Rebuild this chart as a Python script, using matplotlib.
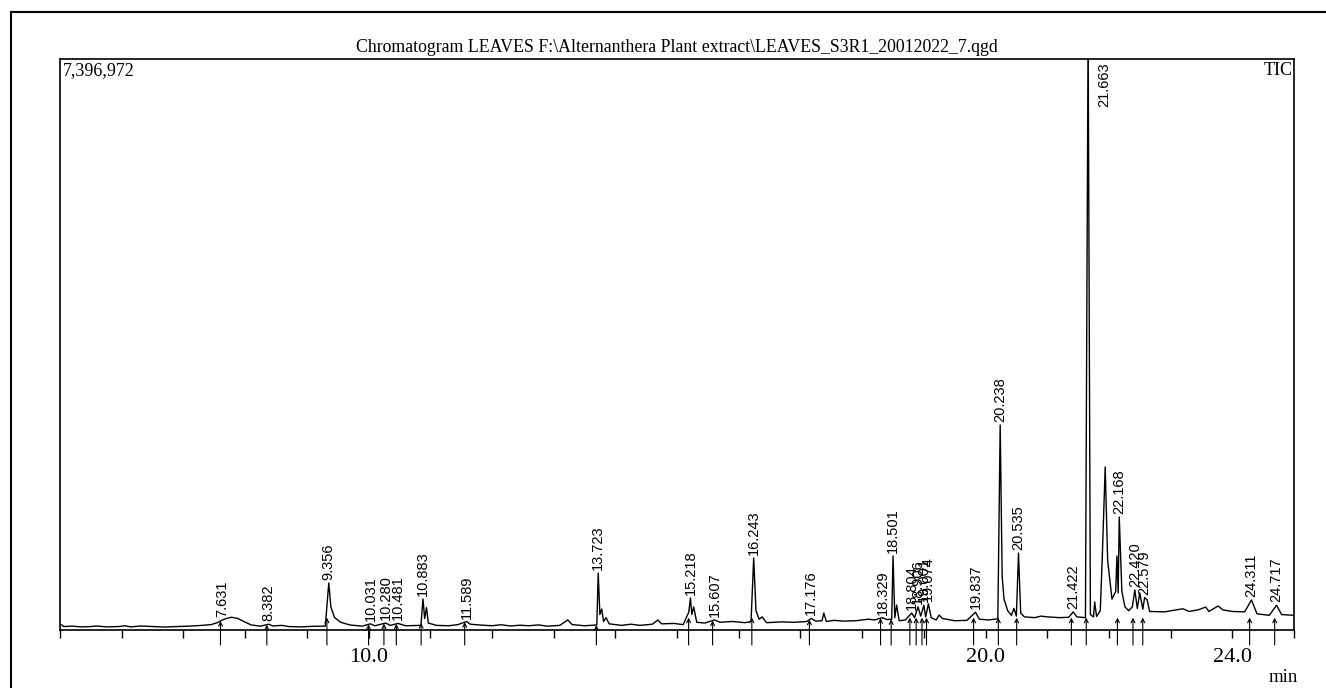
import numpy as np
import matplotlib
matplotlib.use('Agg')
import matplotlib.pyplot as plt
from matplotlib.lines import Line2D
from matplotlib.ticker import FuncFormatter

# TIC trace: (retention time in min, intensity in counts)
trace = [
    (5.00, 70000), (5.03, 65000), (5.06, 45000), (5.2, 50000), (5.35, 40000), (5.5, 45000),
    (5.6, 52000), (5.75, 40000), (5.95, 45000), (6.05, 55000), (6.15, 40000), (6.3, 52000),
    (6.5, 45000), (6.7, 38000), (6.9, 45000), (7.1, 50000), (7.3, 60000), (7.45, 70000),
    (7.55, 95000), (7.631, 130000), (7.7, 150000), (7.78, 165000), (7.88, 150000), (7.98, 110000),
    (8.1, 65000), (8.25, 50000), (8.382, 75000), (8.45, 52000), (8.6, 60000), (8.7, 45000),
    (8.9, 40000), (9.1, 48000), (9.3, 50000), (9.356, 609000), (9.39, 300000), (9.45, 160000),
    (9.55, 100000), (9.7, 65000), (9.9, 50000), (10.031, 80000), (10.1, 55000), (10.280, 90000),
    (10.35, 60000), (10.481, 85000), (10.6, 55000), (10.85, 60000), (10.883, 402000),
    (10.91, 150000), (10.94, 290000), (10.97, 90000), (11.1, 60000), (11.3, 55000), (11.45, 70000),
    (11.589, 110000), (11.65, 75000), (11.8, 65000), (12.0, 55000), (12.15, 68000), (12.3, 52000),
    (12.45, 62000), (12.6, 55000), (12.75, 66000), (12.9, 50000), (13.1, 60000), (13.23, 130000),
    (13.3, 70000), (13.5, 55000), (13.7, 65000), (13.723, 738000), (13.75, 200000),
    (13.78, 272000), (13.81, 110000), (13.85, 160000), (13.9, 80000), (14.1, 60000),
    (14.25, 75000), (14.4, 60000), (14.6, 75000), (14.69, 130000), (14.75, 80000), (14.95, 85000),
    (15.1, 70000), (15.19, 230000), (15.218, 415000), (15.24, 200000), (15.27, 300000),
    (15.32, 100000), (15.45, 90000), (15.607, 130000), (15.7, 100000), (15.9, 110000),
    (16.1, 95000), (16.2, 110000), (16.243, 933000), (16.28, 250000), (16.33, 140000),
    (16.38, 170000), (16.45, 95000), (16.7, 105000), (16.9, 100000), (17.1, 110000),
    (17.176, 150000), (17.25, 115000), (17.35, 120000), (17.38, 220000), (17.42, 110000),
    (17.55, 125000), (17.7, 115000), (17.9, 120000), (18.1, 140000), (18.2, 130000),
    (18.329, 160000), (18.4, 135000), (18.48, 140000), (18.501, 959000), (18.53, 160000),
    (18.56, 324000), (18.6, 120000), (18.7, 130000), (18.804, 220000), (18.85, 160000),
    (18.906, 300000), (18.95, 180000), (19.001, 320000), (19.03, 170000), (19.074, 340000),
    (19.12, 160000), (19.2, 130000), (19.25, 194000), (19.3, 150000), (19.5, 120000),
    (19.7, 125000), (19.837, 230000), (19.9, 140000), (20.05, 130000), (20.2, 145000),
    (20.238, 2656000), (20.27, 700000), (20.3, 400000), (20.36, 250000), (20.42, 190000),
    (20.46, 280000), (20.5, 180000), (20.535, 997000), (20.57, 220000), (20.63, 170000),
    (20.8, 160000), (20.9, 180000), (21.0, 170000), (21.2, 160000), (21.35, 165000),
    (21.422, 235000), (21.48, 170000), (21.62, 160000), (21.663, 7800000), (21.7, 200000),
    (21.75, 170000), (21.77, 363000), (21.8, 175000), (21.86, 250000), (21.89, 881000),
    (21.94, 2112000), (21.98, 900000), (22.05, 400000), (22.11, 500000), (22.13, 959000),
    (22.15, 480000), (22.168, 1464000), (22.21, 500000), (22.26, 300000), (22.32, 250000),
    (22.38, 300000), (22.420, 518000), (22.46, 280000), (22.5, 480000), (22.55, 270000),
    (22.579, 420000), (22.62, 390000), (22.66, 240000), (22.9, 235000), (23.05, 255000),
    (23.2, 275000), (23.3, 240000), (23.45, 262000), (23.57, 298000), (23.62, 240000),
    (23.77, 311000), (23.85, 260000), (24.0, 240000), (24.2, 235000), (24.311, 389000),
    (24.4, 210000), (24.6, 190000), (24.717, 320000), (24.8, 200000), (25.0, 190000),
]
rt = [p[0] for p in trace]
intensity = [p[1] for p in trace]

# labelled peaks
peak_rt = [7.631, 8.382, 9.356, 10.031, 10.280, 10.481, 10.883, 11.589, 13.723, 15.218, 15.607,
           16.243, 17.176, 18.329, 18.501, 18.804, 18.906, 19.001, 19.074, 19.837, 20.238, 20.535,
           21.422, 21.663, 22.168, 22.420, 22.579, 24.311, 24.717]

y_top = 7396972
tick_labels = {10: '10.0', 20: '20.0', 24: '24.0'}

W, H = 1326, 688
fig = plt.figure(figsize=(W / 100, H / 100), dpi=100)
ax = fig.add_axes([60 / W, 1 - 630 / H, 1234 / W, 571 / H])

ax.plot(rt, intensity, color='black', lw=1.0)
ax.set_xlim(5.0, 25.0)
ax.set_ylim(0, y_top)

px = y_top / 571.0  # counts per pixel
for t in peak_rt:
    top = np.interp(t, rt, intensity)
    base = min(np.interp(t - 0.03, rt, intensity), 160000)
    ax.annotate('', xy=(t - 0.03, base), xytext=(t - 0.03, -15 * px),
                arrowprops=dict(arrowstyle='->', lw=0.8, color='black',
                                shrinkA=0, shrinkB=0, mutation_scale=7),
                annotation_clip=False)
    if top > y_top:
        ax.text(t + 0.26, y_top - 3 * px, f'{t:.3f}', rotation=90, ha='center', va='top',
                fontsize=10.5, family='Liberation Sans')
    else:
        ax.text(t, top + 3 * px, f'{t:.3f}', rotation=90, ha='center', va='bottom',
                fontsize=10.5, family='Liberation Sans')

ax.set_yticks([])
ax.set_xticks(np.arange(5, 26, 1))
ax.xaxis.set_major_formatter(FuncFormatter(lambda v, p: tick_labels.get(int(round(v)), '')))
ax.tick_params(axis='x', direction='out', length=6, width=1, pad=7, labelsize=16)
for lab in ax.get_xticklabels():
    lab.set_family('Liberation Serif')
for s in ax.spines.values():
    s.set_linewidth(1.2)

ax.text(0.002, 0.995, '7,396,972', transform=ax.transAxes, ha='left', va='top',
        fontsize=13, family='Liberation Serif')
ax.text(0.999, 0.995, 'TIC', transform=ax.transAxes, ha='right', va='top',
        fontsize=13, family='Liberation Serif')

fig.text(677 / W, 1 - 47 / H,
         'Chromatogram LEAVES F:\\Alternanthera Plant extract\\LEAVES_S3R1_20012022_7.qgd',
         ha='center', va='center', fontsize=12.8, family='Liberation Serif')
fig.text(1283 / W, 1 - 678 / H, 'min', ha='center', va='center', fontsize=13.5,
         family='Liberation Serif')

# outer frame
fig.add_artist(Line2D([11 / W, 11 / W], [0, 1 - 12 / H], transform=fig.transFigure,
                      color='black', lw=1.5))
fig.add_artist(Line2D([11 / W, 1], [1 - 12 / H, 1 - 12 / H], transform=fig.transFigure,
                      color='black', lw=1.5))

fig.savefig('out.png', dpi=100)
